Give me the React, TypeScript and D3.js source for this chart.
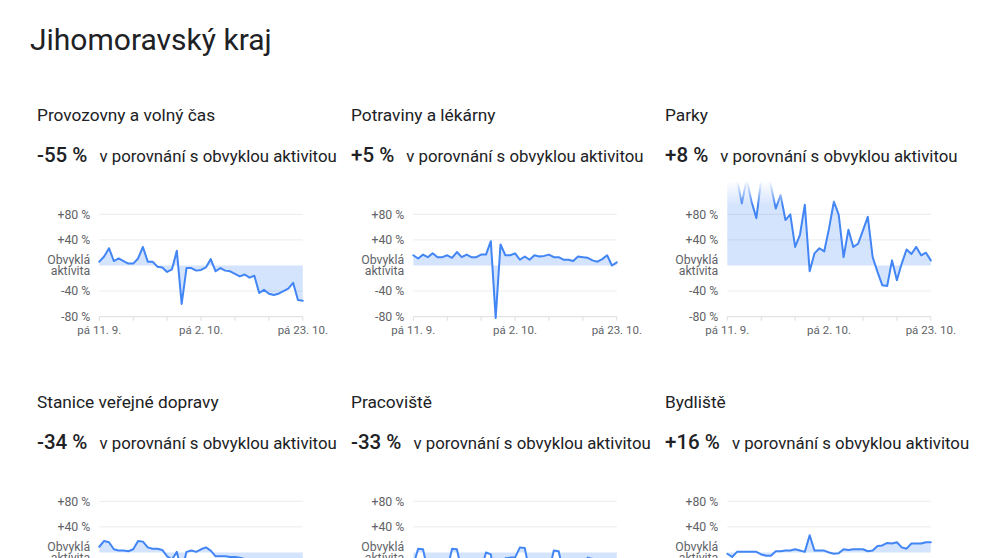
import * as React from 'react';
import * as d3 from 'd3';

const regionTitle = "Jihomoravský kraj";
const categories = [
  "Provozovny a volný čas",
  "Potraviny a lékárny",
  "Parky",
  "Stanice veřejné dopravy",
  "Pracoviště",
  "Bydliště",
];
const changes = ["-55 %", "+5 %", "+8 %", "-34 %", "-33 %", "+16 %"];
const changeText = "v porovnání s obvyklou aktivitou";

const startDay = "2020-09-11";

// daily values, 11. 9. - 23. 10.
const retail = [6, 14, 27, 7, 11, 7, 3, 3, 11, 29, 6, 6, -2, -3, -10, -6, 23, -60, -4, -4, -8, -7, -3, 10, -9, -4, -8, -9, -13, -17, -14, -19, -16, -43, -38, -44, -46, -44, -40, -36, -27, -54, -55];
const grocery = [16, 11, 17, 13, 19, 13, 13, 16, 12, 21, 13, 17, 13, 13, 17, 17, 38, -82, 33, 16, 16, 19, 9, 14, 9, 16, 14, 15, 17, 13, 13, 9, 9, 7, 14, 13, 12, 8, 6, 10, 16, 0, 5];
const parks = [150, 160, 135, 97, 135, 100, 74, 135, 150, 125, 89, 110, 71, 80, 29, 48, 95, -9, 19, 27, 22, 58, 100, 79, 13, 56, 29, 34, 55, 76, 13, -10, -31, -32, 8, -23, 3, 25, 18, 29, 16, 20, 8];
const transit = [9, 18, 16, 5, 3, 3, 2, 5, 18, 17, 8, 6, 6, 4, -6, -11, 1, -30, 1, 3, 1, 5, 8, 3, -6, -6, -6, -7, -7, -8, -10, -11, -12, -22, -25, -28, -30, -27, -30, -31, -29, -33, -34];
const workplaces = [-20, 6, 5, -28, -30, -30, -29, -27, 6, 5, -29, -31, -30, -31, -28, 0, -3, -50, -30, -9, -8, -8, 8, 7, -30, -31, -32, -31, -30, 3, 2, -32, -33, -32, -33, -32, -8, -10, -33, -34, -33, -34, -33];
const residential = [-2, -7, 1, 1, 1, 1, 1, -3, -5, -5, 2, 2, 3, 3, 5, 3, 1, 27, 3, 3, 3, 0, -2, -1, 5, 4, 5, 5, 5, 2, 3, 10, 11, 15, 14, 16, 8, 6, 14, 14, 14, 16, 16];

const series = [retail, grocery, parks, transit, workplaces, residential];

const yTicks = [80, 40, -40, -80];
const yTickLabels = ["+80 %", "+40 %", "-40 %", "-80 %"];
const baselineLabel = ["Obvyklá", "aktivita"];

const weekTicks = ["2020-09-11", "2020-09-18", "2020-09-25", "2020-10-02", "2020-10-09", "2020-10-16", "2020-10-23"];
const labelTicks = ["2020-09-11", "2020-10-02", "2020-10-23"];
const labelTickTexts = ["pá 11. 9.", "pá 2. 10.", "pá 23. 10."];

const parseDay = d3.timeParse("%Y-%m-%d");

const W = 991;
const H = 558;
const font = "Roboto, 'Open Sans', sans-serif";
const lineColor = "#4285f4";
const gridColor = "#ececec";
const labelColor = "#5f6368";

const colX = 37;
const colStep = 314;
const rowStep = 287;
const plotL = 62.3;
const plotW = 203.5;

function Panel({ idx }: { idx: number }) {
  const col = idx % 3;
  const row = Math.floor(idx / 3);
  const values = series[idx];
  const start = parseDay(startDay)!;
  const points = values.map((v, i) => ({ date: d3.timeDay.offset(start, i), value: v }));

  const x = d3.scaleTime()
    .domain([start, parseDay(weekTicks[weekTicks.length - 1])!])
    .range([plotL, plotL + plotW]);
  const y = d3.scaleLinear().domain([-80, 80]).range([316.7, 214.3]);

  const line = d3.line<{ date: Date; value: number }>()
    .x(d => x(d.date))
    .y(d => y(d.value));
  const area = d3.area<{ date: Date; value: number }>()
    .x(d => x(d.date))
    .y0(y(0))
    .y1(d => y(d.value));

  const labelX = plotL - 9;

  return (
    <g transform={`translate(${colX + col * colStep}, ${row * rowStep})`} fontFamily={font}>
      <text x={0} y={121} fontSize={17.3} fill="#202124">{categories[idx]}</text>
      <text x={0} y={162} fill="#202124">
        <tspan fontSize={20.5} fontWeight={500}>{changes[idx]}</tspan>
        <tspan fontSize={16.8} dx={12}>{changeText}</tspan>
      </text>

      {yTicks.slice(0, 3).map(t => (
        <line key={t} x1={plotL} x2={plotL + plotW} y1={y(t)} y2={y(t)} stroke={gridColor} strokeWidth={1} />
      ))}
      <line x1={plotL} x2={plotL + plotW} y1={y(-80)} y2={y(-80)} stroke="#dadce0" strokeWidth={1} />
      {weekTicks.map(t => (
        <line key={t} x1={x(parseDay(t)!)} x2={x(parseDay(t)!)} y1={y(-80)} y2={y(-80) + 4} stroke="#dadce0" strokeWidth={1} />
      ))}

      {yTicks.map((t, i) => (
        <text key={t} x={labelX} y={y(t)} dy="0.35em" textAnchor="end" fontSize={12.3} fill={labelColor}>{yTickLabels[i]}</text>
      ))}
      <text x={labelX} y={y(0) - 1.5} textAnchor="end" fontSize={12.3} fill={labelColor}>{baselineLabel[0]}</text>
      <text x={labelX} y={y(0) + 9.5} textAnchor="end" fontSize={12.3} fill={labelColor}>{baselineLabel[1]}</text>

      {labelTicks.map((t, i) => (
        <text key={t} x={x(parseDay(t)!)} y={334} textAnchor="middle" fontSize={11.5} fill={labelColor}>{labelTickTexts[i]}</text>
      ))}

      <g mask="url(#topFade)">
        <path d={area(points)!} fill={lineColor} fillOpacity={0.22} />
        <path d={line(points)!} fill="none" stroke={lineColor} strokeWidth={2} strokeLinejoin="round" strokeLinecap="round" />
      </g>
    </g>
  );
}

export default function App() {
  return (
    <svg width={W} height={H} style={{ position: 'absolute', left: 0, top: 0, background: '#fff' }}>
      <defs>
        <linearGradient id="fadeGrad" gradientUnits="userSpaceOnUse" x1={0} y1={181} x2={0} y2={205}>
          <stop offset="0" stopColor="#fff" stopOpacity={0} />
          <stop offset="1" stopColor="#fff" stopOpacity={1} />
        </linearGradient>
        <mask id="topFade" maskUnits="userSpaceOnUse" x={0} y={0} width={320} height={420}>
          <rect x={0} y={0} width={320} height={420} fill="url(#fadeGrad)" />
        </mask>
      </defs>
      <text x={30} y={50} fontFamily={font} fontSize={30} fill="#202124">{regionTitle}</text>
      {categories.map((c, i) => <Panel key={c} idx={i} />)}
    </svg>
  );
}
